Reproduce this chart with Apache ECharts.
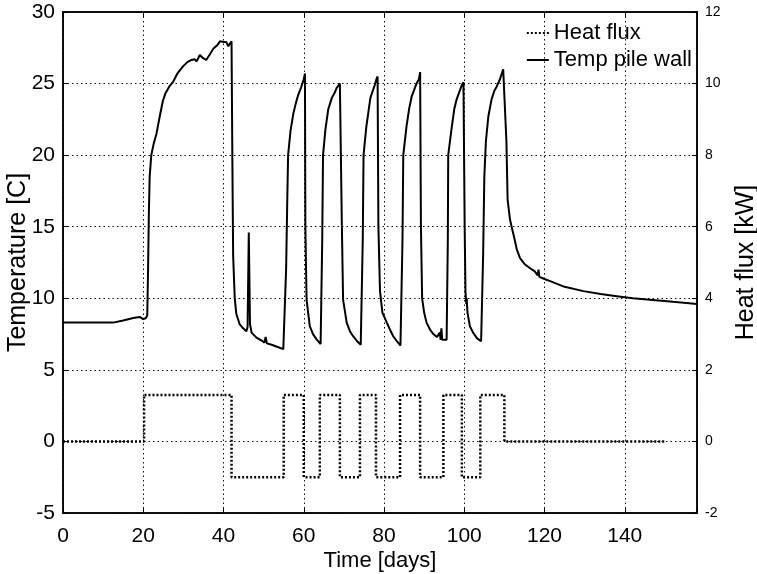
<!DOCTYPE html>
<html>
<head>
<meta charset="utf-8">
<script src="https://cdn.jsdelivr.net/npm/echarts@6/dist/echarts.min.js"></script>
<style>html,body{margin:0;padding:0;background:#fff;}#c{width:757px;height:574px;}</style>
</head>
<body>
<div id="c"></div>
<script>
// ---- data ----
var xTicks = [0, 20, 40, 60, 80, 100, 120, 140];
var tempDays = [0, 12.5, 15, 17.5, 19.1, 20, 20.6, 21.0, 21.2, 21.4, 21.6, 22.0, 22.6, 23.3, 24.1, 24.9, 25.5, 26.5, 27.4, 28.5, 29.9, 31, 32.0, 32.8, 33.3, 34.1, 34.8, 35.7, 36.5, 37.5, 38.5, 39.1, 40.0, 40.7, 41.2, 41.6, 42.0,
  42.2, 42.4, 42.8, 43.2, 44.0, 44.9, 45.7, 46.0, 46.3, 46.6, 47.0, 48.2, 49.5, 50.2, 50.5, 50.8, 52.0, 53.5, 54.9,
  55.3, 55.6, 55.9, 56.1, 56.7, 57.4, 58.0, 58.6, 59.3, 60.0, 60.3,
  60.4, 60.7, 61.5, 62.3, 63.2, 64.2,
  64.4, 64.6, 64.8, 65.4, 66.1, 67.0, 67.6, 68.2, 69.0, 69.3,
  69.5, 69.8, 70.7, 71.5, 72.3, 73.3, 74.2,
  74.5, 74.7, 74.9, 75.6, 76.6, 77.7, 78.1, 78.4,
  78.6, 79.0, 79.6, 80.7, 81.5, 82.3, 83.2, 84.1,
  84.4, 84.6, 84.8, 85.6, 86.3, 86.9, 88.1, 88.7, 89.0,
  89.2, 89.5, 90.0, 90.6, 91.5, 92.3, 93.2, 93.6, 93.9, 94.1, 94.3, 94.5, 95.6,
  95.8, 95.9, 96.0, 96.9, 97.5, 98.1, 99.4, 99.8, 100.0,
  100.1, 100.3, 100.5, 100.6, 100.8, 101.4, 102.2, 103.2, 104.2,
  104.5, 104.7, 105.0, 105.4, 106.0, 106.8, 107.5, 108.1, 108.9, 109.7, 110.1,
  110.5, 110.8, 111.4, 111.8, 112.0, 112.2, 112.4, 113.1, 113.9, 115.0, 116.4, 117.5, 118.3, 118.5, 118.7, 120, 121.4, 125, 129.7, 134, 138.0, 142, 146.3, 152, 158];
var tempValues = [8.3, 8.3, 8.45, 8.62, 8.7, 8.55, 8.6, 8.8, 12, 16, 18.5, 20.0, 20.8, 21.5, 22.7, 23.8, 24.3, 24.8, 25.1, 25.7, 26.2, 26.5, 26.65, 26.7, 26.55, 27.0, 26.8, 26.65, 27.0, 27.45, 27.7, 27.95, 27.9, 27.9, 27.6, 27.8, 27.95,
  20, 13, 10.0, 8.9, 8.2, 7.9, 7.7, 8.0, 14.6, 8.2, 7.6, 7.25, 7.05, 6.9, 7.3, 6.85, 6.75, 6.6, 6.45,
  6.5, 12, 17, 20.0, 21.7, 22.9, 23.6, 24.2, 24.7, 25.3, 25.7,
  15, 9.9, 8.05, 7.5, 7.13, 6.8,
  6.8, 14, 20.0, 21.8, 23.2, 24.0, 24.3, 24.7, 25.0, 25.0,
  15, 9.9, 8.3, 7.7, 7.35, 7.0, 6.75,
  6.75, 14, 20.0, 22.0, 24.0, 24.9, 25.3, 25.5,
  15, 10.5, 9.0, 8.3, 7.8, 7.35, 7.0, 6.7,
  6.7, 14, 20.0, 22.0, 23.3, 24.1, 25.0, 25.3, 25.8,
  15, 10, 9.0, 8.3, 7.8, 7.5, 7.3, 7.2, 7.6, 7.1, 7.9, 7.1, 7.1,
  7.1, 14, 20.0, 22.0, 23.2, 23.9, 24.9, 25.1, 25.0,
  15, 10.5, 9.6, 10.0, 9.0, 8.05, 7.6, 7.2, 7.0,
  7.0, 13, 18.5, 21, 22.7, 23.9, 24.5, 24.8, 25.3, 26.0, 26.0,
  21, 16.9, 15.5, 15.0, 14.9, 15.1, 14.3, 13.4, 12.8, 12.4, 12.1, 11.9, 11.6, 12.0, 11.5, 11.35, 11.2, 10.8, 10.5, 10.3, 10.15, 10.0, 9.9, 9.75, 9.6];
var fluxDays = [0, 20.2, 42, 55, 60, 64, 69, 74, 78, 84, 89, 94.8, 99.4, 104, 110, 150];
var fluxValues = [0, 1.3, -1.0, 1.3, -1.0, 1.3, -1.0, 1.3, -1.0, 1.3, -1.0, 1.3, -1.0, 1.3, 0, 0];

function zip(a, b) { var r = []; for (var i = 0; i < a.length; i++) r.push([a[i], b[i]]); return r; }

var FONT = 'Liberation Sans';
var chart = echarts.init(document.getElementById('c'), null, { renderer: 'canvas' });
var gridLine = { show: true, lineStyle: { color: '#111', width: 1, type: [1.5, 3] } };
chart.setOption({
  backgroundColor: '#fff',
  animation: false,
  grid: { left: 63, right: 60, top: 12, bottom: 61, containLabel: false, outerBoundsMode: 'none',
    show: true, borderColor: '#000', borderWidth: 1.5, backgroundColor: 'transparent' },
  legend: {
    orient: 'vertical', right: 60, top: 17, itemGap: 5, itemWidth: 22, itemHeight: 12, align: 'left',
    itemStyle: { opacity: 0, color: 'rgba(0,0,0,0)', borderWidth: 0 },
    textStyle: { fontFamily: FONT, fontSize: 22, color: '#000' },
    data: ['Heat flux', 'Temp pile wall']
  },
  xAxis: [{
    type: 'value', min: 0, max: 158, interval: 20, position: 'bottom',
    name: 'Time [days]', nameLocation: 'middle', nameGap: 37, nameMoveOverlap: false,
    nameTextStyle: { fontFamily: FONT, fontSize: 22, color: '#000' },
    axisLine: { show: true, onZero: false, lineStyle: { color: '#000', width: 1.5 } },
    axisTick: { show: true, inside: true, length: 5, lineStyle: { color: '#000' } },
    axisLabel: { fontFamily: FONT, fontSize: 21, color: '#000', margin: 13,
      formatter: function (v) { return xTicks.indexOf(v) >= 0 ? String(v) : ''; } },
    splitLine: gridLine
  }, {
    type: 'value', min: 0, max: 158, interval: 20, position: 'top',
    axisLine: { show: true, onZero: false, lineStyle: { color: '#000', width: 1.5 } },
    axisTick: { show: true, inside: true, length: 5, lineStyle: { color: '#000' } },
    axisLabel: { show: false }, splitLine: { show: false }
  }],
  yAxis: [{
    type: 'value', min: -5, max: 30, interval: 5, position: 'left',
    name: 'Temperature [C]', nameLocation: 'middle', nameGap: 32, nameRotate: 90, nameMoveOverlap: false,
    nameTextStyle: { fontFamily: FONT, fontSize: 25, color: '#000' },
    axisLine: { show: true, onZero: false, lineStyle: { color: '#000', width: 1.5 } },
    axisTick: { show: true, inside: true, length: 5, lineStyle: { color: '#000' } },
    axisLabel: { fontFamily: FONT, fontSize: 21, color: '#000', margin: 8, padding: [5, 0, 0, 0] },
    splitLine: gridLine
  }, {
    type: 'value', min: -2, max: 12, interval: 2, position: 'right',
    name: 'Heat flux [kW]', nameLocation: 'middle', nameGap: 37, nameRotate: 90, nameMoveOverlap: false,
    nameTextStyle: { fontFamily: FONT, fontSize: 25, color: '#000' },
    axisLine: { show: true, onZero: false, lineStyle: { color: '#000', width: 1.5 } },
    axisTick: { show: true, inside: true, length: 5, lineStyle: { color: '#000' } },
    axisLabel: { fontFamily: FONT, fontSize: 14, color: '#000', margin: 8 },
    splitLine: { show: false }
  }],
  series: [{
    name: 'Heat flux', type: 'line', yAxisIndex: 1, xAxisIndex: 0, step: 'end',
    symbol: 'none', data: zip(fluxDays, fluxValues),
    lineStyle: { color: '#000', width: 2.5, type: [2, 2] }, itemStyle: { color: '#000' }
  }, {
    name: 'Temp pile wall', type: 'line', yAxisIndex: 0, xAxisIndex: 0,
    symbol: 'none', data: zip(tempDays, tempValues),
    lineStyle: { color: '#000', width: 2 }, itemStyle: { color: '#000' }
  }]
});
</script>
</body>
</html>
